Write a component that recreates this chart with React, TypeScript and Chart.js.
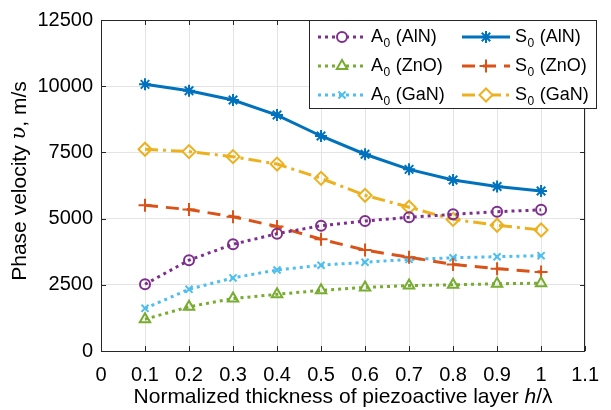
import React, { useEffect, useRef } from "react";
import { Chart, registerables } from "chart.js";
import { drawPoint } from "chart.js/helpers";

Chart.register(...registerables);

const xValues = [0.1, 0.2, 0.3, 0.4, 0.5, 0.6, 0.7, 0.8, 0.9, 1.0];
const a0AlN = [2520, 3430, 4030, 4430, 4730, 4910, 5050, 5160, 5260, 5330];
const a0ZnO = [1200, 1670, 1980, 2140, 2290, 2400, 2470, 2500, 2540, 2560];
const a0GaN = [1610, 2330, 2760, 3060, 3240, 3350, 3460, 3520, 3560, 3600];
const s0AlN = [10070, 9830, 9480, 8910, 8120, 7430, 6860, 6460, 6210, 6040];
const s0ZnO = [5500, 5340, 5070, 4700, 4220, 3810, 3540, 3270, 3110, 2980];
const s0GaN = [7620, 7530, 7340, 7060, 6520, 5880, 5430, 4970, 4750, 4570];

const FONT = '"Liberation Sans", Arial, Helvetica, sans-serif';
const SERIF = '"DejaVu Serif", "Liberation Serif", serif';
const AXIS_COLOR = "#262626";

type SeriesDef = {
  mode: string;
  material: string;
  values: number[];
  color: string;
  dash: number[];
  pointStyle: string;
  radius: number;
};

const series: SeriesDef[] = [
  { mode: "A", material: "(AlN)", values: a0AlN, color: "#7E2F8E", dash: [3, 4], pointStyle: "circle", radius: 5 },
  { mode: "S", material: "(AlN)", values: s0AlN, color: "#0072BD", dash: [], pointStyle: "star", radius: 6 },
  { mode: "A", material: "(ZnO)", values: a0ZnO, color: "#77AC30", dash: [3, 4], pointStyle: "triangle", radius: 6 },
  { mode: "S", material: "(ZnO)", values: s0ZnO, color: "#D95319", dash: [13, 8], pointStyle: "cross", radius: 6.5 },
  { mode: "A", material: "(GaN)", values: a0GaN, color: "#4DBEEE", dash: [3, 4], pointStyle: "crossRot", radius: 5 },
  { mode: "S", material: "(GaN)", values: s0GaN, color: "#EDB120", dash: [13, 5, 3, 5], pointStyle: "rectRot", radius: 6.5 },
];

const decorPlugin = {
  id: "decor",
  afterDraw(chart: any) {
    const ctx: CanvasRenderingContext2D = chart.ctx;
    const { left, right, top, bottom } = chart.chartArea;
    const xs = chart.scales.x;
    const ys = chart.scales.y;
    ctx.save();
    // box
    ctx.strokeStyle = AXIS_COLOR;
    ctx.lineWidth = 1;
    ctx.setLineDash([]);
    ctx.strokeRect(Math.round(left) + 0.5, Math.round(top) + 0.5, Math.round(right - left) - 1, Math.round(bottom - top));
    // inward ticks
    const tl = 5;
    ctx.beginPath();
    xs.ticks.forEach((t: any) => {
      const px = Math.round(xs.getPixelForValue(t.value)) + 0.5;
      ctx.moveTo(px, bottom);
      ctx.lineTo(px, bottom - tl);
      ctx.moveTo(px, top);
      ctx.lineTo(px, top + tl);
    });
    ys.ticks.forEach((t: any) => {
      const py = Math.round(ys.getPixelForValue(t.value)) + 0.5;
      ctx.moveTo(left, py);
      ctx.lineTo(left + tl, py);
      ctx.moveTo(right, py);
      ctx.lineTo(right - tl, py);
    });
    ctx.stroke();

    // legend
    const lx = 309.5, ly = 20.5, lw = 287, lh = 88;
    ctx.fillStyle = "#ffffff";
    ctx.fillRect(lx, ly, lw, lh);
    ctx.strokeStyle = AXIS_COLOR;
    ctx.strokeRect(lx, ly, lw, lh);
    const rowsY = [37, 66, 95];
    const cols = [
      { x0: 318, x1: 366, tx: 371 },
      { x0: 462, x1: 510, tx: 515 },
    ];
    series.forEach((s, i) => {
      const col = cols[i % 2];
      const y = rowsY[Math.floor(i / 2)];
      ctx.strokeStyle = s.color;
      ctx.lineWidth = 3;
      ctx.setLineDash(s.dash);
      ctx.beginPath();
      ctx.moveTo(col.x0, y);
      ctx.lineTo(col.x1, y);
      ctx.stroke();
      ctx.setLineDash([]);
      ctx.lineWidth = 2;
      ctx.fillStyle = "#ffffff";
      drawPoint(ctx, { pointStyle: s.pointStyle as any, radius: s.radius, rotation: 0, borderWidth: 2 } as any, (col.x0 + col.x1) / 2, y);
      ctx.fillStyle = "#000000";
      ctx.textBaseline = "middle";
      ctx.textAlign = "left";
      ctx.font = `18px ${FONT}`;
      let tx = col.tx;
      ctx.fillText(s.mode, tx, y);
      tx += ctx.measureText(s.mode).width;
      ctx.font = `12px ${FONT}`;
      ctx.fillText("0", tx + 0.5, y + 7);
      tx += ctx.measureText("0").width + 1;
      ctx.font = `18px ${FONT}`;
      ctx.fillText(" " + s.material, tx, y);
    });

    // axis titles
    const fontFor = (sg: { italic?: boolean; serif?: boolean }) =>
      `${sg.italic ? "italic " : ""}21px ${sg.serif ? SERIF : FONT}`;
    const drawSegs = (segs: { t: string; italic?: boolean; serif?: boolean }[], cx: number, cy: number, rot: number) => {
      ctx.save();
      ctx.translate(cx, cy);
      ctx.rotate(rot);
      ctx.fillStyle = "#000000";
      ctx.textBaseline = "middle";
      ctx.textAlign = "left";
      let total = 0;
      segs.forEach((sg) => {
        ctx.font = fontFor(sg);
        total += ctx.measureText(sg.t).width;
      });
      let x = -total / 2;
      segs.forEach((sg) => {
        ctx.font = fontFor(sg);
        ctx.fillText(sg.t, x, 0);
        x += ctx.measureText(sg.t).width;
      });
      ctx.restore();
    };
    drawSegs(
      [{ t: "Normalized thickness of piezoactive layer " }, { t: "h", italic: true }, { t: "/λ" }],
      (left + right) / 2,
      397,
      0
    );
    drawSegs(
      [{ t: "Phase velocity " }, { t: "υ", italic: true, serif: true }, { t: ", m/s" }],
      20,
      181,
      -Math.PI / 2
    );
    ctx.restore();
  },
};

export default function App() {
  const ref = useRef<HTMLCanvasElement | null>(null);
  useEffect(() => {
    if (!ref.current) return;
    const chart = new Chart(ref.current, {
      type: "line",
      data: {
        datasets: series.map((s) => ({
          label: s.mode + "0 " + s.material,
          data: xValues.map((x, i) => ({ x, y: s.values[i] })),
          borderColor: s.color,
          backgroundColor: "rgba(0,0,0,0)",
          borderWidth: 3,
          borderDash: s.dash,
          pointStyle: s.pointStyle as any,
          pointRadius: s.radius,
          pointBorderWidth: 2,
          pointBorderColor: s.color,
          pointBackgroundColor: "rgba(0,0,0,0)",
          tension: 0,
          fill: false,
        })),
      },
      options: {
        animation: false,
        responsive: false,
        maintainAspectRatio: false,
        layout: { padding: { top: 20, right: 14, left: 0, bottom: 0 } },
        plugins: { legend: { display: false }, tooltip: { enabled: false } },
        scales: {
          x: {
            type: "linear",
            min: 0,
            max: 1.1,
            afterFit: (scale: any) => {
              scale.height = 59;
            },
            ticks: {
              stepSize: 0.1,
              padding: 12,
              color: "#000000",
              font: { family: FONT, size: 20 },
              maxRotation: 0,
              autoSkip: false,
              callback: (v: any) => String(Number(Number(v).toFixed(1))),
            },
            grid: { color: "#e4e4e4", lineWidth: 1, drawTicks: false },
            border: { display: false },
          },
          y: {
            min: 0,
            max: 12500,
            afterFit: (scale: any) => {
              scale.width = 101;
            },
            ticks: {
              stepSize: 2500,
              padding: 8,
              color: "#000000",
              font: { family: FONT, size: 20 },
              autoSkip: false,
              callback: (v: any) => String(Math.round(Number(v))),
            },
            grid: { color: "#e4e4e4", lineWidth: 1, drawTicks: false },
            border: { display: false },
          },
        },
      },
      plugins: [decorPlugin],
    });
    return () => chart.destroy();
  }, []);
  return (
    <div style={{ position: "fixed", left: 0, top: 0, width: 611, height: 410, background: "#fff" }}>
      <canvas ref={ref} width={611} height={410} style={{ width: 611, height: 410, display: "block" }} />
    </div>
  );
}
